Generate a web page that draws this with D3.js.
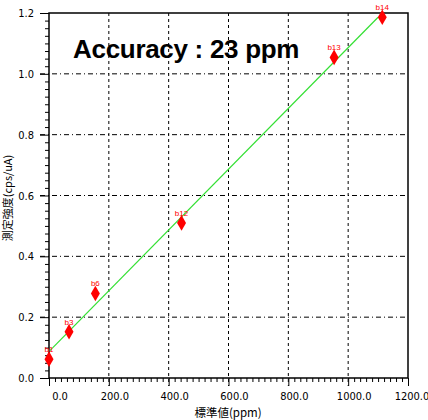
<!DOCTYPE html>
<html>
<head>
<meta charset="utf-8">
<script src="https://cdn.jsdelivr.net/npm/d3@7"></script>
<style>
  body { margin: 0; background: #fff; }
  svg { display: block; }
  .tick-label { font-family: "Liberation Sans Narrow", "DejaVu Sans Condensed", sans-serif; font-size: 11px; fill: #000; }
</style>
</head>
<body>
<svg id="chart" width="428" height="420"></svg>
<script>
// data
var sampleNames = ["b1", "b3", "b6", "b12", "b13", "b14"];
var stdValues = [0, 67, 155, 443, 953, 1114];          // 標準値 (ppm)
var measured = [0.062, 0.152, 0.278, 0.51, 1.054, 1.186]; // 測定強度 (cps/uA)
var fitX = [3, 1100];
var fitY = [0.09, 1.186];
var xTicks = [0, 200, 400, 600, 800, 1000, 1200];
var yTicks = [0, 0.2, 0.4, 0.6, 0.8, 1.0, 1.2];

var plotL = 49, plotR = 408, plotT = 13, plotB = 378;
var svg = d3.select("#chart");

var x = d3.scaleLinear().domain([0, 1200]).range([plotL, plotR]);
var y = d3.scaleLinear().domain([0, 1.2]).range([plotB, plotT]);

// grid
svg.append("g").selectAll("line").data(xTicks.slice(1, -1)).enter().append("line")
  .attr("x1", function(d){ return x(d); }).attr("x2", function(d){ return x(d); })
  .attr("y1", plotT).attr("y2", plotB + 8)
  .attr("stroke", "#000").attr("stroke-width", 1).attr("stroke-dasharray", "3,3");
svg.append("g").selectAll("line").data(yTicks.slice(1, -1)).enter().append("line")
  .attr("x1", plotL - 9).attr("x2", plotR)
  .attr("y1", function(d){ return y(d); }).attr("y2", function(d){ return y(d); })
  .attr("stroke", "#000").attr("stroke-width", 1).attr("stroke-dasharray", "5,3,1,3");

// frame
svg.append("rect").attr("x", plotL).attr("y", plotT)
  .attr("width", plotR - plotL).attr("height", plotB - plotT)
  .attr("fill", "none").attr("stroke", "#000").attr("stroke-width", 1.5);

// axes
var xAxis = d3.axisBottom(x).tickValues(d3.range(0, 1201, 20)).tickSize(4).tickFormat("");
var gx = svg.append("g").attr("transform", "translate(0," + plotB + ")").call(xAxis);
gx.select(".domain").remove();
gx.selectAll(".tick line").attr("stroke", "#000")
  .attr("y2", function(d){ return d % 200 === 0 ? 8 : 4; });

var yAxis = d3.axisLeft(y).tickValues(d3.range(0, 1.2001, 0.025)).tickSize(4).tickFormat("");
var gy = svg.append("g").attr("transform", "translate(" + plotL + ",0)").call(yAxis);
gy.select(".domain").remove();
gy.selectAll(".tick line").attr("stroke", "#000")
  .attr("x2", function(d){ return Math.abs(d / 0.2 - Math.round(d / 0.2)) < 1e-6 ? -9 : -4; });

// tick labels
svg.append("g").selectAll("text").data(xTicks).enter().append("text")
  .attr("class", "tick-label")
  .attr("x", function(d, i){ return x(d) + (i === 0 ? 11 : (i === xTicks.length - 1 ? 4 : 6)); })
  .attr("y", 400)
  .attr("text-anchor", "middle")
  .text(function(d){ return d.toFixed(1); });
svg.append("g").selectAll("text").data(yTicks).enter().append("text")
  .attr("class", "tick-label")
  .attr("x", 34)
  .attr("y", function(d){ return y(d) + 4; })
  .attr("text-anchor", "end")
  .text(function(d){ return d.toFixed(1); });

// axis titles
svg.append("text")
  .attr("transform", "translate(12,198) rotate(-90)")
  .attr("text-anchor", "middle")
  .style("font-family", "'Noto Sans CJK JP', sans-serif").style("font-size", "11px")
  .text("測定強度(cps/uA)");
svg.append("text")
  .attr("x", 228).attr("y", 417)
  .attr("text-anchor", "middle")
  .style("font-family", "'Noto Sans CJK JP', sans-serif").style("font-size", "11.5px")
  .text("標準値(ppm)");

// fit line
var line = d3.line().x(function(d){ return x(d[0]); }).y(function(d){ return y(d[1]); });
svg.append("path")
  .datum(d3.zip(fitX, fitY))
  .attr("d", line)
  .attr("fill", "none").attr("stroke", "#33e033").attr("stroke-width", 1.2);

// points
var pts = d3.zip(stdValues, measured, sampleNames);
svg.append("g").selectAll("path").data(pts).enter().append("path")
  .attr("transform", function(d){ return "translate(" + x(d[0]) + "," + y(d[1]) + ")"; })
  .attr("d", d3.symbol().type(d3.symbolDiamond).size(70))
  .attr("fill", "#ff0000");
svg.append("g").selectAll("text").data(pts).enter().append("text")
  .attr("x", function(d){ return x(d[0]); })
  .attr("y", function(d){ return y(d[1]) - 7; })
  .attr("text-anchor", "middle")
  .style("font-family", "'Liberation Sans Narrow', sans-serif").style("font-size", "8px")
  .attr("fill", "#ff0000")
  .text(function(d){ return d[2]; });

// annotation
svg.append("text")
  .attr("x", 73).attr("y", 58)
  .style("font-family", "'Liberation Sans', Arial, sans-serif")
  .style("font-size", "26px").style("font-weight", "bold")
  .style("letter-spacing", "-0.3px")
  .text("Accuracy : 23 ppm");
</script>
</body>
</html>
